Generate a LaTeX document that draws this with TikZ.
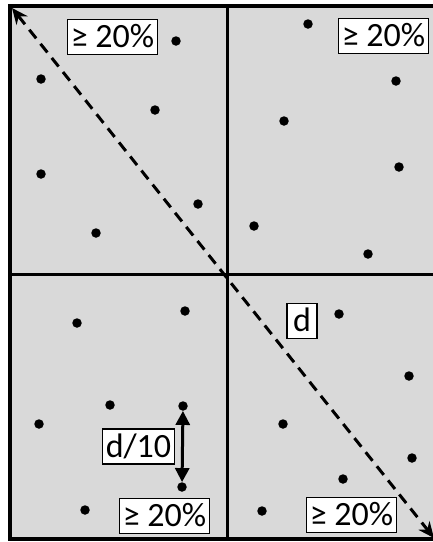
\documentclass[tikz,border=0pt]{standalone}
\usepackage{fontspec}
\setmainfont{Carlito}
\usetikzlibrary{arrows.meta}
\definecolor{cellgray}{HTML}{D9D9D9}

\begin{document}
\begin{tikzpicture}[
  x=1pt,y=-1pt,
  frame/.style={line width=4pt},
  split/.style={line width=3pt},
  pt/.style={circle, fill=black, inner sep=0pt, minimum size=9.5pt},
  share/.style={draw, fill=white, line width=1.3pt, font=\fontsize{34}{40}\selectfont, inner xsep=3.5pt, inner ysep=3pt, text height=25pt, text depth=4pt},
  diag/.style={{Stealth[length=16pt,width=14pt]}-{Stealth[length=16pt,width=14pt]}, dash pattern=on 11pt off 7pt, line width=3pt},
  gap/.style={{Triangle[length=14pt,width=14pt]}-{Triangle[length=14pt,width=14pt]}, line width=3pt}
]
\useasboundingbox (0,0) rectangle (433,542);
\fill[cellgray] (10,6) rectangle (440,539);
\draw[split] (227,6) -- (227,539);
\draw[split] (10,274.5) -- (440,274.5);
\draw[frame] (10,6) rectangle (440,539);
% diagonal
\coordinate (nw) at (12,8);
\coordinate (se) at (434,538);
\draw[diag] (nw) -- (se);
% points
\foreach \x/\y [count=\i] in {176/41, 41/79, 155/110, 41/174, 198/204, 96/233,
    308/24, 396/81, 284/121, 399/167, 254/226, 368/254,
    185/311, 77/323, 110/405, 39/424, 85/510,
    339/314, 409/376, 283/424, 412/458, 343/479, 262/511}
  \node[pt] (p\i) at (\x,\y) {};
\node[pt] (gtop) at (183,406) {};
\node[pt] (gbot) at (182,487) {};
\draw[gap] (gtop) -- (gbot);
% labels
\node[share] (nwshare) at (112.5,37) {≥ 20\%};
\node[share] (neshare) at (383.5,36) {≥ 20\%};
\node[share] (swshare) at (164.5,516) {≥ 20\%};
\node[share] (seshare) at (351.5,515) {≥ 20\%};
\node[share, inner xsep=6pt] (dlen) at (302,321) {d};
\node[share, inner xsep=3pt] (dten) at (138.5,446.5) {d/10};
\end{tikzpicture}
\end{document}
